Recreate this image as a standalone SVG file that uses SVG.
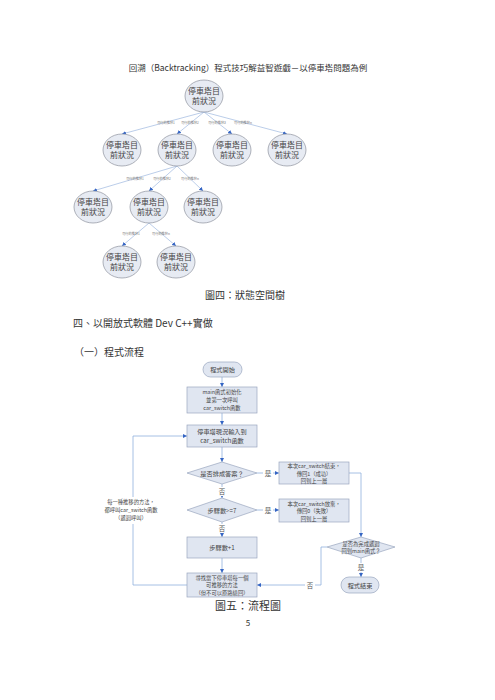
<svg xmlns="http://www.w3.org/2000/svg" width="495" height="700" viewBox="0 0 495 700">
<style>
text{font-family:"Noto Sans CJK TC","Noto Sans CJK SC",sans-serif;fill:#333;}
.t{text-anchor:middle;}
.node ellipse{fill:#e7ebf3;stroke:#8e929e;stroke-width:0.7;}
.node text{font-size:8px;text-anchor:middle;fill:#444;}
.edge{stroke:#9db7df;stroke-width:0.7;fill:none;}
.el{font-size:3.2px;fill:#777;text-anchor:middle;}
.fb{fill:#e0e6f1;stroke:#9aa6bf;stroke-width:0.7;}
.ft{font-size:6.2px;text-anchor:middle;fill:#444;}
.f3{font-size:5.3px;text-anchor:middle;fill:#444;}
.fl{stroke:#8fb0dd;stroke-width:0.8;fill:none;}
.lab{font-size:6.5px;text-anchor:middle;fill:#555;}
</style>
<defs>
<marker id="ah" markerWidth="4" markerHeight="4" refX="4" refY="2" orient="auto" markerUnits="userSpaceOnUse">
<path d="M0,0 L4,2 L0,4 Z" fill="#3565c4"/>
</marker>
</defs>
<rect width="495" height="700" fill="#fff"/>
<text class="t" x="248" y="71" font-size="8.5">回溯（Backtracking）程式技巧解益智遊戲－以停車塔問題為例</text>

<g id="tree-edges">
<line class="edge" x1="204" y1="112" x2="122" y2="134" marker-end="url(#ah)"/>
<line class="edge" x1="204" y1="112" x2="177" y2="134" marker-end="url(#ah)"/>
<line class="edge" x1="204" y1="112" x2="232" y2="134" marker-end="url(#ah)"/>
<line class="edge" x1="204" y1="112" x2="287" y2="134" marker-end="url(#ah)"/>
<line class="edge" x1="177" y1="166" x2="93" y2="191" marker-end="url(#ah)"/>
<line class="edge" x1="177" y1="166" x2="149" y2="191" marker-end="url(#ah)"/>
<line class="edge" x1="177" y1="166" x2="203" y2="191" marker-end="url(#ah)"/>
<line class="edge" x1="149" y1="223" x2="122" y2="246" marker-end="url(#ah)"/>
<line class="edge" x1="149" y1="223" x2="176" y2="246" marker-end="url(#ah)"/>
<text class="el" x="166" y="124">可行的推移1</text>
<text class="el" x="190" y="124">可行的推移2</text>
<text class="el" x="217" y="124">可行的推移3</text>
<text class="el" x="243" y="124">可行的推移n</text>
<text class="el" x="135" y="180">可行的推移1</text>
<text class="el" x="162" y="180">可行的推移2</text>
<text class="el" x="190" y="180">可行的推移n</text>
<text class="el" x="131" y="235">可行的推移1</text>
<text class="el" x="161" y="235">可行的推移n</text>
</g>

<g id="root" class="node"><ellipse cx="204" cy="96" rx="19" ry="16"/><text x="204" y="94">停車塔目</text><text x="204" y="104">前狀況</text></g>
<g id="n1a" class="node"><ellipse cx="122" cy="150" rx="19" ry="16"/><text x="122" y="148">停車塔目</text><text x="122" y="158">前狀況</text></g>
<g id="n1b" class="node"><ellipse cx="177" cy="150" rx="19" ry="16"/><text x="177" y="148">停車塔目</text><text x="177" y="158">前狀況</text></g>
<g id="n1c" class="node"><ellipse cx="232" cy="150" rx="19" ry="16"/><text x="232" y="148">停車塔目</text><text x="232" y="158">前狀況</text></g>
<g id="n1d" class="node"><ellipse cx="287" cy="150" rx="19" ry="16"/><text x="287" y="148">停車塔目</text><text x="287" y="158">前狀況</text></g>
<g id="n2a" class="node"><ellipse cx="93" cy="207" rx="19" ry="16"/><text x="93" y="205">停車塔目</text><text x="93" y="215">前狀況</text></g>
<g id="n2b" class="node"><ellipse cx="149" cy="207" rx="19" ry="16"/><text x="149" y="205">停車塔目</text><text x="149" y="215">前狀況</text></g>
<g id="n2c" class="node"><ellipse cx="203" cy="207" rx="19" ry="16"/><text x="203" y="205">停車塔目</text><text x="203" y="215">前狀況</text></g>
<g id="n3a" class="node"><ellipse cx="122" cy="262" rx="19" ry="16"/><text x="122" y="260">停車塔目</text><text x="122" y="270">前狀況</text></g>
<g id="n3b" class="node"><ellipse cx="176" cy="262" rx="19" ry="16"/><text x="176" y="260">停車塔目</text><text x="176" y="270">前狀況</text></g>

<text class="t" x="245" y="299" font-size="10">圖四：狀態空間樹</text>
<text x="73" y="327" font-size="10">四、以開放式軟體 Dev C++實做</text>
<text x="74" y="356" font-size="10">（一）程式流程</text>

<g id="flow-connectors">
<line class="fl" x1="222" y1="377" x2="222" y2="387" marker-end="url(#ah)"/>
<line class="fl" x1="222" y1="413" x2="222" y2="425" marker-end="url(#ah)"/>
<line class="fl" x1="222" y1="447" x2="222" y2="462" marker-end="url(#ah)"/>
<line class="fl" x1="222" y1="484" x2="222" y2="498" marker-end="url(#ah)"/>
<line class="fl" x1="222" y1="522" x2="222" y2="537" marker-end="url(#ah)"/>
<line class="fl" x1="222" y1="558" x2="222" y2="573" marker-end="url(#ah)"/>
<line class="fl" x1="257" y1="473" x2="279" y2="473" marker-end="url(#ah)"/>
<line class="fl" x1="257" y1="510" x2="279" y2="510" marker-end="url(#ah)"/>
<polyline class="fl" points="349,473 361,473 361,537" marker-end="url(#ah)"/>
<line class="fl" x1="361" y1="558" x2="361" y2="577" marker-end="url(#ah)"/>
<polyline class="fl" points="327,547 321,547 321,585 257,585" marker-end="url(#ah)"/>
<polyline class="fl" points="187,585 133,585 133,436 187,436" marker-end="url(#ah)"/>
<rect x="217" y="487" width="10" height="9" fill="#fff"/><text class="lab" x="222" y="494">否</text>
<rect x="217" y="524" width="10" height="9" fill="#fff"/><text class="lab" x="222" y="531">否</text>
<rect x="263" y="469" width="10" height="9" fill="#fff"/><text class="lab" x="268" y="476">是</text>
<rect x="263" y="506" width="10" height="9" fill="#fff"/><text class="lab" x="268" y="513">是</text>
<rect x="356" y="563" width="10" height="9" fill="#fff"/><text class="lab" x="361" y="570">是</text>
<rect x="305" y="581" width="10" height="9" fill="#fff"/><text class="lab" x="310" y="588">否</text>
<rect x="103" y="497" width="56" height="27" fill="#fff"/>
<text class="f3" x="131" y="504">每一種推移的方法，</text>
<text class="f3" x="131" y="512">都呼叫car_switch函數</text>
<text class="f3" x="131" y="520">（遞迴呼叫）</text>
</g>

<g id="start"><rect class="fb" x="203" y="362" width="39" height="15" rx="7.5"/><text class="ft" x="222.5" y="372">程式開始</text></g>
<g id="init"><rect class="fb" x="187" y="387" width="70" height="26"/><text class="f3" x="222" y="394">main函式初始化</text><text class="f3" x="222" y="402">並第一次呼叫</text><text class="f3" x="222" y="410">car_switch函數</text></g>
<g id="input"><rect class="fb" x="187" y="425" width="70" height="22"/><text class="ft" x="222" y="434">停車塔現況輸入到</text><text class="ft" x="222" y="443">car_switch函數</text></g>
<g id="d1"><polygon class="fb" points="222,462 257,473 222,484 187,473"/><text class="ft" x="222" y="475.5">是否排成答案？</text></g>
<g id="d2"><polygon class="fb" points="222,498 257,510 222,522 187,510"/><text class="ft" x="222" y="512.5">步驟數&gt;=7</text></g>
<g id="step"><rect class="fb" x="187" y="537" width="70" height="21"/><text class="ft" x="222" y="550">步驟數+1</text></g>
<g id="find"><rect class="fb" x="187" y="573" width="70" height="24"/><text class="f3" x="222" y="579.5">尋找當下停車塔每一個</text><text class="f3" x="222" y="587">可推移的方法</text><text class="f3" x="222" y="594.5">（但不可以原路繞回）</text></g>
<g id="ok"><rect class="fb" x="279" y="462" width="70" height="22"/><text class="f3" x="314" y="468">本次car_switch結束，</text><text class="f3" x="314" y="475.5">傳回1（成功）</text><text class="f3" x="314" y="483">回到上一層</text></g>
<g id="fail"><rect class="fb" x="279" y="499" width="70" height="23"/><text class="f3" x="314" y="505.5">本次car_switch放棄，</text><text class="f3" x="314" y="513">傳回0（失敗）</text><text class="f3" x="314" y="520.5">回到上一層</text></g>
<g id="d3"><polygon class="fb" points="361,537 395,547 361,558 327,547"/><text class="f3" x="361" y="545.5">是否為完成遞迴</text><text class="f3" x="361" y="553">回到main函式？</text></g>
<g id="end"><rect class="fb" x="341" y="577" width="38" height="16" rx="8"/><text class="ft" x="360" y="587.5">程式結束</text></g>

<text class="t" x="248" y="610" font-size="11">圖五：流程圖</text>
<text class="t" x="248" y="626" font-size="8">5</text>
</svg>
